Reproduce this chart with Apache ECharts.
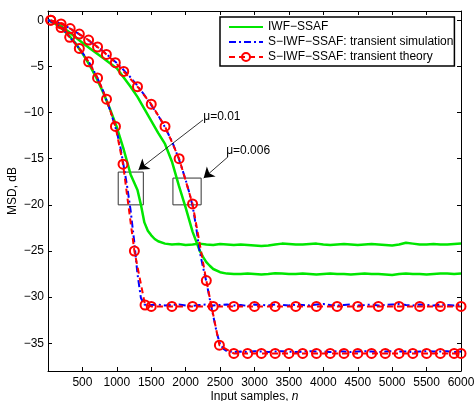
<!DOCTYPE html>
<html>
<head>
<meta charset="utf-8">
<script src="https://cdn.jsdelivr.net/npm/echarts@6/dist/echarts.min.js"></script>
<style>
html, body { margin: 0; padding: 0; background: #fff; }
#graph { width: 476px; height: 401px; }
</style>
</head>
<body>
<div id="graph"></div>
<script>
// tick labels
var xTicks = [500, 1000, 1500, 2000, 2500, 3000, 3500, 4000, 4500, 5000, 5500, 6000];
var yTicks = [0, -5, -10, -15, -20, -25, -30, -35];

// IWF-SSAF, mu = 0.01
var iwfN1 = [0, 100, 200, 300, 400, 500, 600, 700, 800, 900, 1000, 1100, 1200, 1300, 1350, 1400, 1450, 1500, 1550, 1600, 1700,
    1800, 1900, 2000, 2100, 2200, 2300, 2400, 2500, 2600, 2700,
    2800, 2900, 3000, 3100, 3200, 3300, 3400, 3500, 3600, 3700,
    3800, 3900, 4000, 4100, 4200, 4300, 4400, 4500, 4600, 4700,
    4800, 4900, 5000, 5100, 5200, 5300, 5400, 5500, 5600, 5700,
    5800, 5900, 6000];
var iwfMsd1 = [0, -0.35, -0.9, -1.6, -2.5, -3.6, -4.8, -6.2, -7.8, -9.6, -11.6, -14.0, -16.7, -18.4, -20.0, -21.9, -22.8, -23.3, -23.7, -23.95, -24.2,
    -24.3, -24.25, -24.35, -24.3, -24.2, -24.3, -24.35, -24.25, -24.3, -24.35,
    -24.3, -24.35, -24.4, -24.45, -24.4, -24.3, -24.2, -24.25, -24.3, -24.3,
    -24.25, -24.2, -24.3, -24.35, -24.3, -24.25, -24.3, -24.35, -24.3, -24.25,
    -24.3, -24.35, -24.4, -24.3, -24.1, -24.2, -24.3, -24.3, -24.25, -24.3,
    -24.3, -24.25, -24.2];

// IWF-SSAF, mu = 0.006
var iwfN2 = [0, 100, 200, 300, 400, 500, 600, 700, 800, 900, 1000, 1100, 1200, 1300, 1400, 1500,
    1600, 1700, 1800, 1900, 2000, 2050, 2100, 2150, 2200, 2250, 2300, 2350, 2400, 2500, 2600, 2700,
    2800, 2900, 3000, 3100, 3200, 3300, 3400, 3500, 3600, 3700,
    3800, 3900, 4000, 4100, 4200, 4300, 4400, 4500, 4600, 4700,
    4800, 4900, 5000, 5100, 5200, 5300, 5400, 5500, 5600, 5700,
    5800, 5900, 6000];
var iwfMsd2 = [0, -0.25, -0.7, -1.25, -1.85, -2.45, -3.0, -3.55, -4.1, -4.65, -5.2, -6.2, -7.2, -8.3, -9.6, -10.9,
    -12.2, -13.4, -15.3, -17.9, -20.3, -21.6, -22.9, -23.9, -24.9, -25.6, -26.2, -26.6, -26.95, -27.3, -27.45, -27.5,
    -27.5, -27.45, -27.5, -27.55, -27.5, -27.4, -27.45, -27.5, -27.5, -27.45,
    -27.5, -27.55, -27.5, -27.45, -27.5, -27.5, -27.55, -27.5, -27.45, -27.5,
    -27.5, -27.55, -27.6, -27.5, -27.45, -27.5, -27.5, -27.55, -27.5, -27.45,
    -27.45, -27.5, -27.45];

// S-IWF-SSAF simulation, mu = 0.01
var simN1 = [0, 100, 200, 300, 400, 500, 600, 700, 800, 900, 1000, 1050, 1100, 1150, 1200, 1250, 1300, 1350, 1400, 1450, 1500,
    1600, 1700, 1800, 1900, 2000, 2100, 2200, 2300, 2400, 2500,
    2600, 2700, 2800, 2900, 3000, 3100, 3200, 3300, 3400, 3500,
    3600, 3700, 3800, 3900, 4000, 4100, 4200, 4300, 4400, 4500,
    4600, 4700, 4800, 4900, 5000, 5100, 5200, 5300, 5400, 5500,
    5600, 5700, 5800, 5900, 6000];
var simMsd1 = [0, -0.3, -0.8, -1.7, -2.55, -3.5, -4.6, -5.95, -7.65, -9.7, -12.1, -13.7, -15.8, -18.0, -20.6, -23.8, -27.5, -30.1, -30.8, -30.9, -30.85,
    -30.8, -30.9, -30.85, -30.8, -30.9, -30.95, -30.85, -30.8, -30.9, -30.85,
    -30.8, -30.9, -30.85, -30.95, -30.8, -30.85, -30.9, -30.8, -30.85, -30.9,
    -30.8, -30.85, -30.9, -30.8, -30.75, -30.85, -30.9, -30.85, -30.8, -30.9,
    -30.85, -30.8, -30.9, -30.85, -30.8, -30.75, -30.85, -30.9, -30.8, -30.85,
    -30.9, -30.8, -30.85, -30.9, -30.85];

// S-IWF-SSAF simulation, mu = 0.006
var simN2 = [0, 100, 200, 300, 400, 500, 600, 700, 800, 900, 1000, 1100, 1200, 1300, 1400, 1500, 1600, 1700, 1800, 1900, 2000,
    2050, 2100, 2150, 2200, 2250, 2300, 2350, 2400, 2450, 2500, 2550, 2600,
    2700, 2800, 2900, 3000, 3100, 3200, 3300, 3400, 3500, 3600,
    3700, 3800, 3900, 4000, 4100, 4200, 4300, 4400, 4500, 4600,
    4700, 4800, 4900, 5000, 5100, 5200, 5300, 5400, 5500, 5600,
    5700, 5800, 5900, 6000];
var simMsd2 = [0, -0.15, -0.4, -0.8, -1.25, -1.75, -2.25, -2.8, -3.35, -4.0, -4.65, -5.4, -6.2, -7.1, -8.1, -9.2, -10.3, -11.6, -13.1, -15.0, -17.3,
    -18.6, -20.1, -22.3, -24.9, -26.7, -28.3, -30.2, -32.0, -33.8, -35.1, -35.6, -35.85,
    -35.95, -35.9, -35.95, -35.85, -35.9, -35.95, -35.9, -35.85, -35.9, -35.95,
    -35.9, -35.85, -35.9, -35.9, -35.95, -35.85, -35.9, -35.95, -35.9, -35.85,
    -35.9, -35.95, -35.9, -35.85, -35.9, -35.9, -35.95, -35.9, -35.85, -35.9,
    -35.9, -35.85, -35.95, -35.9];

// S-IWF-SSAF theory, mu = 0.01
var thN1 = [40, 190, 315, 455, 590, 720, 850, 980, 1090, 1255, 1410, 1500, 1800, 2100, 2400, 2700, 3000, 3300, 3600,
    3900, 4200, 4500, 4800, 5100, 5400, 5700, 6000];
var thMsd1 = [0, -0.8, -1.85, -3.05, -4.5, -6.25, -8.55, -11.5, -15.6, -25.0, -30.85, -31.0, -31.0, -31.0, -31.0, -31.0, -31.0, -31.0, -31.0,
    -31.0, -31.0, -31.0, -31.0, -31.0, -31.0, -31.0, -31.0];

// S-IWF-SSAF theory, mu = 0.006
var thN2 = [40, 190, 322, 455, 590, 720, 848, 978, 1100, 1300, 1500, 1700, 1905, 2100, 2300, 2490,
    2700, 2900, 3100, 3300, 3500, 3700, 3900, 4100, 4300, 4500, 4700, 4900, 5100, 5300, 5500, 5700, 5900, 6000];
var thMsd2 = [0, -0.4, -0.9, -1.5, -2.15, -2.9, -3.7, -4.6, -5.55, -7.2, -9.1, -11.5, -15.0, -19.9, -28.2, -35.2,
    -36.1, -36.1, -36.1, -36.1, -36.1, -36.1, -36.1, -36.1, -36.1, -36.1, -36.1, -36.1, -36.1, -36.1, -36.1, -36.1, -36.1, -36.1];

var names = ['IWF\u2212SSAF', 'S\u2212IWF\u2212SSAF: transient simulation', 'S\u2212IWF\u2212SSAF: transient theory'];

function pairs(xs, ys) {
    return xs.map(function (x, i) { return [x, ys[i]]; });
}

var font = 'Liberation Sans, Arial, Helvetica, sans-serif';

var chart = echarts.init(document.getElementById('graph'));

var greenLine = { color: '#00e600', width: 2.5 };
var blueLine = { color: '#0000ff', width: 2, type: [7, 3, 2, 3] };
var redLine = { color: '#ff0000', width: 2, type: [6, 4] };
var redItem = { color: 'rgba(255,255,255,0)', borderColor: '#ff0000', borderWidth: 2 };
var noSymbol = { color: 'rgba(0,0,0,0)', borderWidth: 0, opacity: 0 };

function minus(v) {
    return String(v).replace('-', '\u2212');
}

var option = {
    animation: false,
    textStyle: { fontFamily: font },
    grid: { left: 48, right: 15, top: 11, bottom: 30, containLabel: false, outerBoundsMode: 'none' },
    legend: {
        data: [
            { name: names[0], itemStyle: noSymbol },
            { name: names[1], itemStyle: noSymbol },
            { name: names[2] }
        ],
        orient: 'vertical',
        left: 220,
        top: 17,
        padding: [3, 1, 2, 8],
        itemWidth: 34,
        itemHeight: 10,
        itemGap: 1,
        backgroundColor: '#fff',
        borderColor: '#000',
        borderWidth: 1.5,
        borderRadius: 0,
        textStyle: { fontFamily: font, fontSize: 12, color: '#000', lineHeight: 14 }
    },
    xAxis: [{
        type: 'value',
        min: 0,
        max: 6000,
        position: 'bottom',
        name: 'Input samples, {it|n}',
        nameLocation: 'middle',
        nameGap: 20,
        nameMoveOverlap: false,
        nameTextStyle: {
            fontFamily: font, fontSize: 12, color: '#000',
            rich: { it: { fontFamily: font, fontSize: 12, fontStyle: 'italic', color: '#000' } }
        },
        axisLine: { onZero: false, lineStyle: { color: '#000', width: 1 } },
        axisTick: { inside: true, length: 4, customValues: xTicks, lineStyle: { color: '#000' } },
        axisLabel: { customValues: xTicks, margin: 6, fontSize: 12, color: '#000', fontFamily: font, formatter: minus },
        splitLine: { show: false }
    }, {
        type: 'value',
        min: 0,
        max: 6000,
        position: 'top',
        axisLine: { onZero: false, lineStyle: { color: '#000', width: 1 } },
        axisTick: { inside: true, length: 4, customValues: xTicks, lineStyle: { color: '#000' } },
        axisLabel: { show: false },
        splitLine: { show: false }
    }],
    yAxis: [{
        type: 'value',
        min: -38,
        max: 1,
        position: 'left',
        name: 'MSD, dB',
        nameLocation: 'middle',
        nameGap: 29,
        nameMoveOverlap: false,
        nameTextStyle: { fontFamily: font, fontSize: 12, color: '#000' },
        axisLine: { onZero: false, lineStyle: { color: '#000', width: 1 } },
        axisTick: { inside: true, length: 4, customValues: yTicks, lineStyle: { color: '#000' } },
        axisLabel: { customValues: yTicks, margin: 4, fontSize: 12, color: '#000', fontFamily: font, formatter: minus },
        splitLine: { show: false }
    }, {
        type: 'value',
        min: -38,
        max: 1,
        position: 'right',
        axisLine: { onZero: false, lineStyle: { color: '#000', width: 1 } },
        axisTick: { inside: true, length: 4, customValues: yTicks, lineStyle: { color: '#000' } },
        axisLabel: { show: false },
        splitLine: { show: false }
    }],
    series: [{
        name: names[0],
        type: 'line',
        data: pairs(iwfN1, iwfMsd1),
        symbol: 'none',
        lineStyle: greenLine,
        itemStyle: { color: greenLine.color },
        z: 2,
        // annotations: zoom boxes, arrows and step-size labels
        markArea: {
            silent: true,
            itemStyle: { color: 'rgba(0,0,0,0)', borderColor: '#333', borderWidth: 1 },
            data: [
                [{ coord: [1020, -16.45] }, { coord: [1385, -20] }],
                [{ coord: [1815, -17.1] }, { coord: [2225, -20] }]
            ]
        },
        markLine: {
            silent: true,
            symbol: ['none', 'arrow'],
            symbolSize: 10,
            label: { show: false },
            lineStyle: { color: '#000', width: 0.8, type: 'solid' },
            itemStyle: { color: '#000' },
            data: [
                [{ coord: [2252, -10.8] }, { coord: [1315, -16.2] }],
                [{ coord: [2615, -14.8] }, { coord: [2262, -17.1] }]
            ]
        },
        markPoint: {
            silent: true,
            symbol: 'circle',
            symbolSize: 0,
            label: { show: true, position: 'right', distance: 0, color: '#000', fontSize: 12, fontFamily: font },
            data: [
                { coord: [2255, -10.4], value: '\u03bc=0.01' },
                { coord: [2588, -14.1], value: '\u03bc=0.006' }
            ]
        }
    }, {
        name: names[0],
        type: 'line',
        data: pairs(iwfN2, iwfMsd2),
        symbol: 'none',
        lineStyle: greenLine,
        itemStyle: { color: greenLine.color },
        z: 2
    }, {
        name: names[1],
        type: 'line',
        data: pairs(simN1, simMsd1),
        symbol: 'none',
        lineStyle: blueLine,
        itemStyle: { color: blueLine.color },
        z: 3
    }, {
        name: names[1],
        type: 'line',
        data: pairs(simN2, simMsd2),
        symbol: 'none',
        lineStyle: blueLine,
        itemStyle: { color: blueLine.color },
        z: 3
    }, {
        name: names[2],
        type: 'line',
        data: pairs(thN1, thMsd1),
        symbol: 'circle',
        symbolSize: 9,
        showAllSymbol: true,
        lineStyle: redLine,
        itemStyle: redItem,
        z: 4
    }, {
        name: names[2],
        type: 'line',
        data: pairs(thN2, thMsd2),
        symbol: 'circle',
        symbolSize: 9,
        showAllSymbol: true,
        lineStyle: redLine,
        itemStyle: redItem,
        z: 4
    }]
};

chart.setOption(option);
</script>
</body>
</html>
